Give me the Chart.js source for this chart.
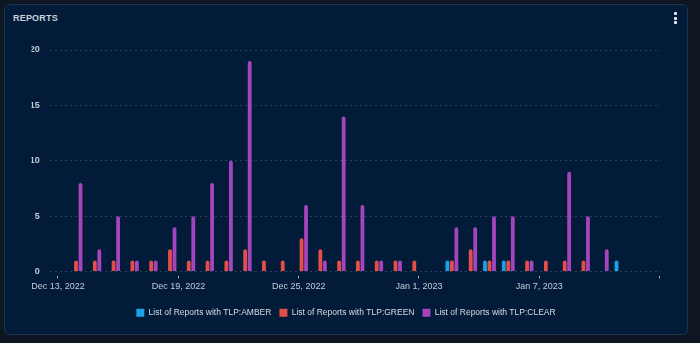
<!DOCTYPE html>
<html>
<head>
<meta charset="utf-8">
<title>Reports</title>
<script src="https://cdn.jsdelivr.net/npm/chart.js@4.4.1/dist/chart.umd.min.js"></script>
<style>
  html, body { margin: 0; padding: 0; background: #0e1622; }
  body { width: 700px; height: 343px; position: relative; overflow: hidden; }
  .card {
    position: absolute; left: 4px; top: 4px; width: 682px; height: 329px;
    background: #011b38; border: 1px solid #1d3452; border-radius: 6px;
  }
  .title {
    position: absolute; left: 8px; top: 8px;
    font: 600 9px 'Liberation Sans', Arial, sans-serif; color: #c9d1dc; letter-spacing: 0.2px;
  }
  .menu { position: absolute; right: 10px; top: 7px; width: 3px; }
  .menu span { display: block; width: 3px; height: 3px; background: #e8edf3; margin-bottom: 1.5px; border-radius: 1px; }
  canvas { position: absolute; left: 0; top: 0; }
</style>
</head>
<body>
<div class="card">
  <div class="title">REPORTS</div>
  <div class="menu"><span></span><span></span><span></span></div>
  <canvas id="reports" width="682" height="329"></canvas>
</div>
<script>
// one slot per day, Dec 14, 2022 .. Jan 12, 2023
const days = ['Dec 14','Dec 15','Dec 16','Dec 17','Dec 18','Dec 19','Dec 20','Dec 21','Dec 22','Dec 23',
              'Dec 24','Dec 25','Dec 26','Dec 27','Dec 28','Dec 29','Dec 30','Dec 31','Jan 1','Jan 2',
              'Jan 3','Jan 4','Jan 5','Jan 6','Jan 7','Jan 8','Jan 9','Jan 10','Jan 11','Jan 12'];

const amber = [null,null,null,null,null,null,null,null,null,null,
               null,null,null,null,null,null,null,null,null,null,
               1,null,1,1,null,null,null,null,null,1];
const green = [1,1,1,1,1,2,1,1,1,2,
               1,1,3,2,1,1,1,1,1,null,
               1,2,1,1,1,1,1,1,null,null];
const clear = [8,2,5,1,1,4,5,8,10,19,
               null,null,6,1,14,6,1,1,null,null,
               4,4,5,5,1,null,9,5,2,null];

// axis ticks, in day slots (slot 0 = Dec 14)
const tickDays = [-0.96, 5.45, 11.85, 18.25, 24.65, 31.05];
const tickLabels = ['Dec 13, 2022', 'Dec 19, 2022', 'Dec 25, 2022', 'Jan 1, 2023', 'Jan 7, 2023', ''];

const toPoints = arr => arr.map((v, i) => ({ x: i, y: v }));

const barStyle = {
  borderRadius: { topLeft: 2, topRight: 2 },
  borderSkipped: 'bottom',
  categoryPercentage: 0.72,
  barPercentage: 0.85
};

const data = {
  labels: days,
  datasets: [{
    label: 'List of Reports with TLP:AMBER',
    data: toPoints(amber),
    backgroundColor: '#1aa1e6',
    ...barStyle
  }, {
    label: 'List of Reports with TLP:GREEN',
    data: toPoints(green),
    backgroundColor: '#e24e4a',
    ...barStyle
  }, {
    label: 'List of Reports with TLP:CLEAR',
    data: toPoints(clear),
    backgroundColor: '#a545bd',
    ...barStyle
  }]
};

const config = {
  type: 'bar',
  data,
  options: {
    responsive: false,
    animation: false,
    // equal side padding keeps the legend centred in the card
    layout: { padding: { top: 45, right: 26.5, bottom: 7, left: 26.5 } },
    plugins: {
      tooltip: { enabled: false },
      legend: {
        position: 'bottom',
        labels: {
          boxWidth: 8,
          boxHeight: 8,
          padding: 8,
          color: '#d6dbe2',
          font: { family: "'Liberation Sans', Arial, sans-serif", size: 8.5 }
        }
      }
    },
    scales: {
      x: {
        type: 'linear',
        offset: false,
        min: -1.4,
        max: 31.1,
        afterBuildTicks: scale => { scale.ticks = tickDays.map(v => ({ value: v })); },
        afterFit: scale => { scale.height = 29; },
        ticks: {
          autoSkip: false,
          maxRotation: 0,
          padding: 3,
          color: '#c3ccd8',
          font: { family: "'Liberation Sans', Arial, sans-serif", size: 9 },
          callback: (value, i) => tickLabels[i]
        },
        grid: {
          offset: false,
          drawOnChartArea: false,
          drawTicks: true,
          tickLength: 7,
          tickColor: '#9aa8ba',
          tickBorderDash: [0, 4, 3, 10]
        },
        border: { display: false }
      },
      y: {
        min: 0,
        max: 20,
        afterFit: scale => { scale.width = 18.2; },
        ticks: {
          stepSize: 5,
          padding: 10,
          color: '#c3ccd8',
          font: { family: "'Liberation Sans', Arial, sans-serif", size: 9, weight: 'bold' }
        },
        grid: { color: '#2c405c', drawTicks: false },
        border: { display: false, dash: [2, 3] }
      }
    }
  }
};

const reportsChart = new Chart(document.getElementById('reports'), config);
</script>
</body>
</html>
